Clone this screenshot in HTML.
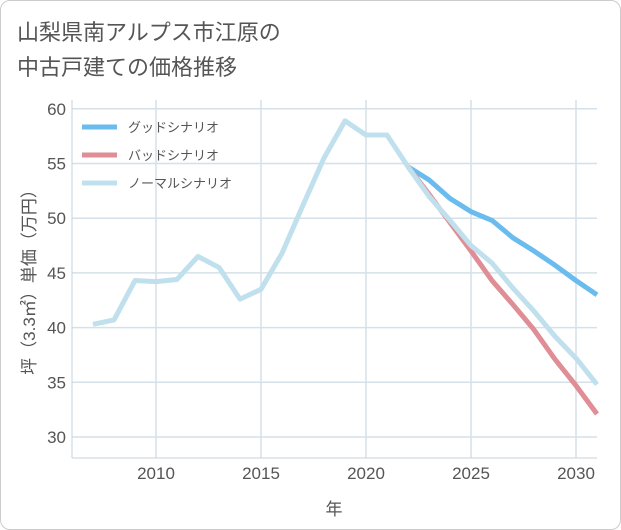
<!DOCTYPE html>
<html><head><meta charset="utf-8"><style>
body{margin:0;background:#fff;}
.wrap{position:relative;width:619px;height:528px;border:1px solid #ccc;border-radius:10px;overflow:hidden;background:#fff;font-family:"Liberation Sans","Noto Sans CJK JP",sans-serif;}
.title{position:absolute;left:16px;top:14px;font-size:22px;line-height:35px;color:#555;}
</style></head><body>
<div class="wrap">
<div class="title">山梨県南アルプス市江原の<br>中古戸建ての価格推移</div>
<svg id="c" width="621" height="530" style="position:absolute;left:-1px;top:-1px"></svg>
</div>
<script>
const years=[2007,2008,2009,2010,2011,2012,2013,2014,2015,2016,2017,2018,2019,2020,2021,2022];
const histVals=[40.3,40.7,44.3,44.2,44.4,46.5,45.5,42.6,43.5,46.8,51.2,55.5,58.9,57.6,57.6,54.7];
const projYears=[2022,2023,2024,2025,2026,2027,2028,2029,2030,2031];
const goodVals=[54.7,53.5,51.8,50.6,49.8,48.2,47.0,45.7,44.3,43.0];
const badVals=[54.7,52.2,49.6,47.0,44.3,42.1,39.8,37.1,34.7,32.1];
const normVals=[54.7,52.0,49.8,47.5,45.9,43.6,41.5,39.2,37.2,34.8];
const xTicks=[2010,2015,2020,2025,2030];
const yTicks=[30,35,40,45,50,55,60];
const seriesNames=["グッドシナリオ","バッドシナリオ","ノーマルシナリオ"];
const L=72,R=597,T=100,B=458;
const X=v=>156+(v-2010)*21;
const Y=v=>437-(v-30)*10.94;
const svg=document.getElementById('c');
const NS='http://www.w3.org/2000/svg';
function mk(t,a,p){const e=document.createElementNS(NS,t);for(const k in a)e.setAttribute(k,a[k]);(p||svg).appendChild(e);return e;}
for(const t of yTicks){
 const l=mk('line',{x1:L,x2:R,y1:Y(t),y2:Y(t),stroke:'#d5e0e8','stroke-width':1.5});
 
 
 const tx=mk('text',{x:66,y:Y(t)+6,'text-anchor':'end','font-size':17,fill:'#555'});tx.textContent=t;
 
 
}
for(const t of xTicks){
 const l=mk('line',{x1:X(t),x2:X(t),y1:T,y2:B,stroke:'#d5e0e8','stroke-width':1.5});
 
 
 const tx=mk('text',{x:X(t),y:479,'text-anchor':'middle','font-size':17,fill:'#555'});tx.textContent=t;
 
 
}
const ax=mk('line',{x1:L,x2:L,y1:T,y2:B,stroke:'#c5d0d8','stroke-width':1});


const ax2=mk('line',{x1:L,x2:R,y1:B,y2:B,stroke:'#c5d0d8','stroke-width':1});


const xt=mk('text',{x:334,y:515,'text-anchor':'middle','font-size':17,fill:'#555'});xt.textContent='年';


const yt=mk('text',{x:0,y:0,'text-anchor':'middle','font-size':17,fill:'#555',transform:'translate(35,278) rotate(-90)'});yt.textContent='坪（3.3㎡）単価（万円）';


function line(xs,vs,col,name){
 const p=mk('polyline',{points:xs.map((x,i)=>X(x)+','+Y(vs[i])).join(' '),fill:'none',stroke:col,'stroke-width':5,'stroke-linejoin':'round'});
 
 
}
line(projYears,goodVals,'#6bbcee','good-scenario-line');
line(projYears,badVals,'#e08e96','bad-scenario-line');
line(years,histVals,'#bfe0ec','historical-line');
line(projYears,normVals,'#bfe0ec','normal-scenario-line');
const cols=['#6bbcee','#e08e96','#bfe0ec'];
seriesNames.forEach((n,i)=>{
 const y=127+i*28;
 const g=mk('g',{});
 
 
 mk('line',{x1:82,x2:117,y1:y,y2:y,stroke:cols[i],'stroke-width':5},g);
 const t=mk('text',{x:128,y:y+5,'font-size':13,fill:'#555'},g);t.textContent=n;
});
</script>
</body></html>
